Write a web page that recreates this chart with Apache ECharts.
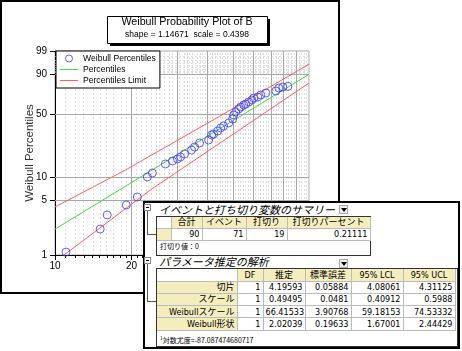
<!DOCTYPE html>
<html>
<head>
<meta charset="utf-8">
<script src="https://cdn.jsdelivr.net/npm/echarts@6/dist/echarts.min.js"></script>
<style>
  body { margin: 0; width: 462px; height: 351px; overflow: hidden; background: #fff; }
  #chart { position: absolute; left: 0; top: 0; width: 462px; height: 351px; }
  .abs { position: absolute; }
  #win { left: 143px; top: 201px; width: 317px; height: 148px; box-sizing: border-box; border: 2px solid #000; background: #fff; }
  .sec-title { font-family: "Noto Sans CJK JP"; font-style: italic; font-size: 11px; line-height: 15px; color: #000; white-space: nowrap; }
  .icon { width: 7px; height: 7px; box-sizing: border-box; border: 1px solid #888; background: #fff; }
  .icon div { position: absolute; left: 1px; top: 2px; width: 3px; height: 1px; background: #000; }
  .drop { width: 9px; height: 9px; box-sizing: border-box; border: 1px solid #aaa; background: #eee; }
  .drop div { position: absolute; left: 1px; top: 2px; width: 0; height: 0; border-left: 3px solid transparent; border-right: 3px solid transparent; border-top: 4px solid #000; }
  .tree { background: #555; }
  .frame { box-sizing: border-box; border: 1px solid #333; }
  table { position: absolute; border-collapse: collapse; table-layout: fixed; }
  td { border: 0; border-right: 1px solid #bbb; border-bottom: 1px solid #bbb; padding: 0 2px; font-family: "Liberation Sans Narrow", "DejaVu Sans Condensed", "Noto Sans CJK JP"; font-size: 9px; line-height: 10px; white-space: nowrap; overflow: hidden; color: #000; }
  td.h { background: #f4eebe; text-align: center; }
  td.r { background: #f4eebe; text-align: right; }
  td.n { text-align: right; }
  .note { font-family: "Noto Sans CJK JP"; font-size: 7px; line-height: 9px; white-space: nowrap; color: #000; }
  .note sup { font-size: 5px; vertical-align: 3px; }
</style>
</head>
<body>
<div id="chart"></div>
<div id="win" class="abs"></div>
<div id="tables"></div>
<script>
// 散布点 (x, 累積パーセント)
const ptX = [11.05, 15.06, 16.05, 19.08, 21.09, 23.10, 24.17, 27.21, 29.01, 30.35, 31.20, 32.36, 34.48, 35.43, 37.08, 40.25, 41.36, 42.12, 43.68, 44.89, 46.13, 48.29, 50.07, 50.53, 51.46, 52.88, 53.85, 55.34, 56.36, 57.92, 59.53, 60.62, 62.87, 64.61, 67.61, 74.06, 76.10, 78.91, 82.60]
const ptP = [1.09, 2.17, 3.29, 4.41, 5.58, 9.94, 11.13, 14.33, 15.57, 16.46, 17.38, 18.86, 20.98, 22.72, 25.22, 27.23, 30.88, 31.65, 34.09, 36.63, 38.39, 41.13, 44.98, 49.02, 52.15, 55.36, 57.53, 59.72, 60.82, 63.03, 65.24, 67.43, 68.53, 70.73, 72.88, 74.97, 78.04, 79.03, 79.6]
// Percentiles
const fitX = [10, 100]
const fitP = [2.16, 89.8]
// Percentiles Limit
const upX = [10, 18.93, 44.9, 100]
const upP = [4.16, 12.11, 48.3, 95.5]
const loX = [10.85, 23.75, 44.9, 100]
const loP = [1.0, 6.84, 25.5, 82.8]
// 目盛り
const xMajor = [10, 20, 30, 40, 50, 60, 70, 80, 90, 100]
const yTicks = [1, 5, 10, 50, 90, 99]
const yMinor = [91, 92, 93, 94, 95, 96, 97, 98]

// テーブル
const t1Head = ['', '合計', 'イベント', '打切り', '打切りパーセント']
const t1Row = ['', '90', '71', '19', '0.21111']
const t2Head = ['', 'DF', '推定', '標準誤差', '95% LCL', '95% UCL']
const t2Names = ['切片', 'スケール', 'Weibullスケール', 'Weibull形状']
const t2Rows = [
  ['1', '4.19593', '0.05884', '4.08061', '4.31125'],
  ['1', '0.49495', '0.0481', '0.40912', '0.5988'],
  ['1', '66.41533', '3.90768', '59.18153', '74.53332'],
  ['1', '2.02039', '0.19633', '1.67001', '2.44429']
]

const W = p => Math.log(-Math.log(1 - p / 100))
const lg = v => Math.log10(v)
const xMinor = []
for (let i = 11; i < 100; i++) if (i % 10 !== 0) xMinor.push(i)

const font = 'Liberation Sans'
const blue = '#3a3aff'
const green = '#44dd44'
const red = '#ff6060'
const lineIcon = 'path://M0,0 L18,0 L18,1 L0,1 Z'

const gridLines = []
xMinor.forEach(v => gridLines.push({ xAxis: lg(v), lineStyle: { color: '#dedede', type: [2, 2], width: 1 } }))
yMinor.forEach(v => gridLines.push({ yAxis: W(v), lineStyle: { color: '#dedede', type: [2, 2], width: 1 } }))
xMajor.slice(1, -1).forEach(v => gridLines.push({ xAxis: lg(v), lineStyle: { color: '#a8a8a8', type: 'solid', width: 1 } }))
yTicks.slice(1, -1).forEach(v => gridLines.push({ yAxis: W(v), lineStyle: { color: '#a8a8a8', type: 'solid', width: 1 } }))

const chart = echarts.init(document.getElementById('chart'), null, { renderer: 'canvas' })
chart.setOption({
  animation: false,
  backgroundColor: '#fff',
  textStyle: { fontFamily: font },
  title: {
    text: 'Weibull Probability Plot of B',
    subtext: 'shape = 1.14671  scale = 0.4398',
    left: 187,
    textAlign: 'center',
    top: 17,
    padding: 0,
    itemGap: 2,
    textStyle: { fontSize: 10.7, fontWeight: 'normal', color: '#000', fontFamily: font },
    subtextStyle: { fontSize: 8.5, color: '#000', fontFamily: font }
  },
  graphic: [
    { type: 'rect', shape: { x: 1, y: 1, width: 338, height: 292 }, style: { fill: 'none', stroke: '#000', lineWidth: 2 }, silent: true },
    { type: 'rect', shape: { x: 110, y: 19, width: 160, height: 27 }, style: { fill: '#000' }, silent: true },
    { type: 'rect', shape: { x: 107.5, y: 16.5, width: 160, height: 27 }, style: { fill: '#fff', stroke: '#000', lineWidth: 1 }, silent: true }
  ],
  legend: {
    orient: 'vertical',
    left: 56,
    top: 51,
    padding: [2, 4, 2, 4],
    itemGap: 0,
    itemWidth: 18,
    itemHeight: 7,
    backgroundColor: '#fff',
    borderColor: '#000',
    borderWidth: 1,
    selectedMode: false,
    textStyle: { fontSize: 8.6, color: '#000', lineHeight: 11, fontFamily: font },
    data: [
      { name: 'Weibull Percentiles', icon: 'circle', itemStyle: { color: 'rgba(0,0,0,0)', borderColor: blue, borderWidth: 1 } },
      { name: 'Percentiles', icon: lineIcon, itemStyle: { color: green, borderWidth: 0 } },
      { name: 'Percentiles Limit', icon: lineIcon, itemStyle: { color: red, borderWidth: 0 } }
    ]
  },
  grid: {
    left: 55, top: 51, width: 254, height: 204,
    show: true, borderColor: '#a8a8a8', borderWidth: 1, backgroundColor: 'transparent',
    outerBoundsMode: 'none', containLabel: false
  },
  xAxis: [
    {
      type: 'value', min: 1, max: 2, position: 'bottom',
      axisLine: { onZero: false, lineStyle: { color: '#000', width: 1 } },
      axisTick: { customValues: xMajor.map(lg), length: 5, lineStyle: { color: '#000' } },
      axisLabel: {
        customValues: xMajor.map(lg), margin: 6, fontSize: 10, color: '#000', fontFamily: font,
        formatter: v => String(Math.round(Math.pow(10, v)))
      },
      splitLine: { show: false }
    },
    {
      type: 'value', min: 1, max: 2, position: 'bottom',
      axisLine: { show: false, onZero: false },
      axisTick: { customValues: xMinor.map(lg), length: 3, lineStyle: { color: '#000' } },
      axisLabel: { show: false },
      splitLine: { show: false }
    }
  ],
  yAxis: {
    type: 'value', min: W(1), max: W(99),
    name: 'Weibull Percentiles', nameLocation: 'middle', nameGap: 19, nameMoveOverlap: false,
    nameTextStyle: { fontSize: 11.5, color: '#333', fontFamily: font },
    axisLine: { show: true, onZero: false, lineStyle: { color: '#000', width: 1 } },
    axisTick: { show: true, customValues: yTicks.map(W), length: 5, lineStyle: { color: '#000' } },
    axisLabel: {
      customValues: yTicks.map(W), margin: 8, fontSize: 10, color: '#000', fontFamily: font,
      formatter: v => {
        const p = yTicks.find(t => Math.abs(W(t) - v) < 1e-6)
        return p === undefined ? '' : String(p)
      }
    },
    splitLine: { show: false }
  },
  series: [
    {
      type: 'line', data: [], silent: true, z: 1,
      markLine: { silent: true, z: 1, symbol: ['none', 'none'], label: { show: false }, emphasis: { disabled: true }, animation: false, data: gridLines }
    },
    {
      name: 'Percentiles', type: 'line', z: 3, symbol: 'none',
      data: fitX.map((x, i) => [lg(x), W(fitP[i])]),
      lineStyle: { color: green, width: 1 }, itemStyle: { color: green }
    },
    {
      name: 'Percentiles Limit', type: 'line', z: 3, symbol: 'none',
      data: upX.map((x, i) => [lg(x), W(upP[i])]),
      lineStyle: { color: red, width: 1 }, itemStyle: { color: red }
    },
    {
      name: 'Percentiles Limit', type: 'line', z: 3, symbol: 'none',
      data: loX.map((x, i) => [lg(x), W(loP[i])]),
      lineStyle: { color: red, width: 1 }, itemStyle: { color: red }
    },
    {
      name: 'Weibull Percentiles', type: 'scatter', z: 4, symbol: 'circle', symbolSize: 8,
      data: ptX.map((x, i) => [lg(x), W(ptP[i])]),
      itemStyle: { color: 'rgba(0,0,0,0)', borderColor: blue, borderWidth: 1 }
    }
  ]
})

// レポートシート部分
function box(cls, l, t, w, h, html) {
  const d = document.createElement('div')
  d.className = 'abs ' + cls
  d.style.left = l + 'px'
  d.style.top = t + 'px'
  if (w != null) d.style.width = w + 'px'
  if (h != null) d.style.height = h + 'px'
  if (html) d.innerHTML = html
  document.getElementById('tables').appendChild(d)
  return d
}
function makeTable(l, t, widths, rows) {
  const tb = document.createElement('table')
  tb.style.left = l + 'px'
  tb.style.top = t + 'px'
  tb.style.width = widths.reduce((a, b) => a + b, 0) + 'px'
  let html = '<colgroup>' + widths.map(w => '<col style="width:' + w + 'px">').join('') + '</colgroup>'
  rows.forEach(r => {
    html += '<tr style="height:' + r.h + 'px">' + r.cells.map(c => '<td class="' + c.c + '">' + c.t + '</td>').join('') + '</tr>'
  })
  tb.innerHTML = html
  document.getElementById('tables').appendChild(tb)
}

// セクション1
box('icon', 144, 204, null, null, '<div></div>')
box('tree', 147, 211, 1, 24)
box('tree', 147, 234, 9, 1)
box('sec-title', 159, 202, null, null, 'イベントと打ち切り変数のサマリー')
box('drop', 339, 205, null, null, '<div></div>')
box('frame', 156, 216, 215, 40)
makeTable(157, 217, [14, 31, 44, 41, 83], [
  { h: 11, cells: t1Head.map((s, i) => ({ c: i === 0 ? '' : 'h', t: s })) },
  { h: 12, cells: t1Row.map((s, i) => ({ c: i === 0 ? 'r' : 'n', t: s })) }
])
box('note', 160, 242, null, null, '打切り値：0')

// セクション2
box('icon', 144, 257, null, null, '<div></div>')
box('tree', 147, 264, 1, 38)
box('tree', 147, 301, 9, 1)
box('sec-title', 159, 254, null, null, 'パラメータ推定の解析')
box('drop', 339, 259, null, null, '<div></div>')
box('frame', 156, 268, 302, 79)
const t2 = [{ h: 12, cells: t2Head.map((s, i) => ({ c: i === 0 ? '' : 'h', t: s })) }]
t2Names.forEach((n, i) => {
  t2.push({ h: 12.3, cells: [{ c: 'r', t: n }].concat(t2Rows[i].map(s => ({ c: 'n', t: s }))) })
})
makeTable(157, 269, [80, 26, 42, 46, 52, 52], t2)
box('note', 160, 333, null, null, '<sup>1</sup>対数尤度=-87.087474680717')
</script>
</body>
</html>
